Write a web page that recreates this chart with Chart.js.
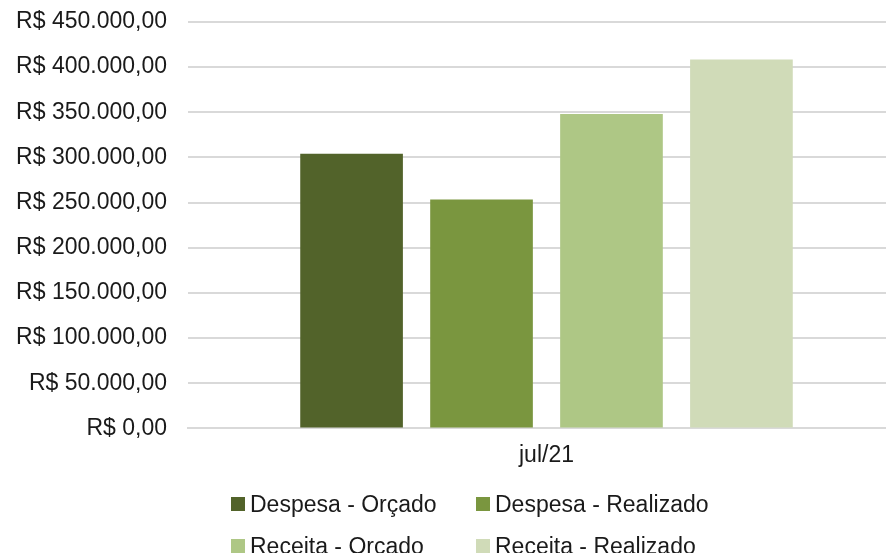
<!DOCTYPE html>
<html>
<head>
<meta charset="utf-8">
<script src="https://cdn.jsdelivr.net/npm/chart.js@4/dist/chart.umd.min.js"></script>
<style>
    html, body { margin: 0; padding: 0; background: #fff; }
    #wrap { position: relative; width: 886px; height: 553px; overflow: hidden; }
    #chart { position: absolute; left: 0; top: 0; }
    #legend { position: absolute; left: 231px; top: 487px; font: 23px "Liberation Sans", Arial, sans-serif; color: #1a1a1a; }
    .item { position: absolute; white-space: nowrap; display: flex; align-items: center; height: 34px; }
    .box { width: 14px; height: 14px; margin-right: 5px; }
</style>
</head>
<body>
<div id="wrap">
    <!-- plot area runs past the right edge, as in the cropped original -->
    <canvas id="chart" width="905" height="553"></canvas>
    <div id="legend"></div>
</div>
<script>
// chart data
const categories = ['jul/21'];
const seriesNames = ['Despesa - Orçado', 'Despesa - Realizado', 'Receita - Orçado', 'Receita - Realizado'];
const seriesValues = [[304000], [253500], [348000], [408500]];
const seriesColors = ['#52632a', '#7a963f', '#aec785', '#d0dbb8'];
const yTicks = [0, 50000, 100000, 150000, 200000, 250000, 300000, 350000, 400000, 450000];

const fontFamily = '"Liberation Sans", Arial, sans-serif';

function formatBRL(value) {
    return 'R$ ' + value.toLocaleString('pt-BR', { minimumFractionDigits: 2, maximumFractionDigits: 2 });
}

const datasets = seriesNames.map((name, i) => ({
    label: name,
    data: seriesValues[i],
    backgroundColor: seriesColors[i],
    borderWidth: 0,
    categoryPercentage: 0.725,
    barPercentage: 0.79
}));

new Chart(document.getElementById('chart'), {
    type: 'bar',
    data: { labels: categories, datasets: datasets },
    options: {
        responsive: false,
        animation: false,
        layout: { padding: { top: 22, left: 0, right: 0, bottom: 71 } },
        plugins: {
            legend: { display: false },
            tooltip: { enabled: false }
        },
        scales: {
            x: {
                grid: { display: false, drawTicks: false },
                border: { color: '#d9d9d9', width: 2 },
                ticks: { color: '#1a1a1a', padding: 13, font: { family: fontFamily, size: 23 } }
            },
            y: {
                min: yTicks[0],
                max: yTicks[yTicks.length - 1],
                afterBuildTicks: axis => { axis.ticks = yTicks.map(v => ({ value: v })); },
                afterFit: axis => {
                    axis.width = 188;
                    axis.paddingTop = 0;
                    axis.paddingBottom = 0;
                },
                grid: { color: '#d9d9d9', lineWidth: 2, drawTicks: false },
                border: { display: false },
                ticks: {
                    color: '#1a1a1a',
                    padding: 21,
                    font: { family: fontFamily, size: 23 },
                    callback: value => formatBRL(value)
                }
            }
        }
    }
});

// legend, two per row
const legend = document.getElementById('legend');
seriesNames.forEach((name, i) => {
    const item = document.createElement('div');
    item.className = 'item';
    item.style.left = (i % 2) * 245 + 'px';
    item.style.top = Math.floor(i / 2) * 42 + 'px';
    item.innerHTML = '<span class="box" style="background:' + seriesColors[i] + '"></span>' + name;
    legend.appendChild(item);
});
</script>
</body>
</html>
